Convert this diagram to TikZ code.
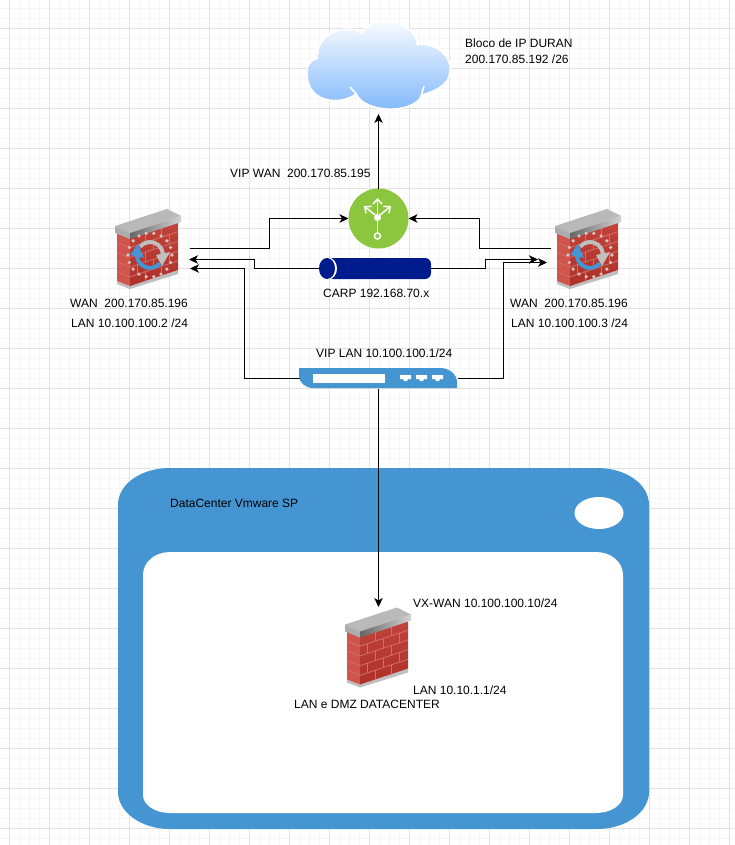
\documentclass[tikz,border=0pt]{standalone}
\usepackage{fontspec}
\setmainfont{Liberation Sans}
\usetikzlibrary{arrows.meta}
\definecolor{winblue}{HTML}{4495D2}
\definecolor{vipgreen}{HTML}{8CC63F}
\definecolor{pipeblue}{HTML}{001B8C}
\definecolor{brick}{HTML}{BC342C}
\definecolor{brickl}{HTML}{CF544C}
\definecolor{mortar}{HTML}{D0706A}
\definecolor{gridmaj}{HTML}{E2E2E2}
\definecolor{gridmin}{HTML}{F6F6F6}
\definecolor{ringdot}{HTML}{D9C2BC}
\definecolor{cloudblue}{HTML}{7DB6FC}
\tikzset{
  conn/.style={draw=black,line width=1pt,-{Stealth[length=9pt,width=8.5pt,inset=2.5pt]}},
  lbl/.style={inner sep=0pt,anchor=west,font=\fontsize{12}{14}\selectfont,text=black},
  port/.style={fill=white},
  box/.style={inner sep=0pt,outer sep=0pt,minimum width=#1},
  iconline/.style={draw=white,line width=1.5pt},
  iconhead/.style={draw=white,line width=1.5pt,-{Straight Barb[length=5pt,width=9pt]}},
}
% name, x, y of the top left corner
\newcommand{\brickwall}[3]{%
  \node[box=66pt,minimum height=80pt] (#1) at (#2+33,#3+40) {};
  \begin{scope}[shift={(#2,#3)}]
    \fill[gray!50] (2,72) -- (15,77) -- (63,61) -- (63,65) -- (15,80) -- (2,75) -- cycle;
    \fill[brickl] (2,22) -- (15,27) -- (15,77) -- (2,72) -- cycle;
    \shade[top color=brick!92!white,bottom color=brick!92!black] (15,27) -- (63,11) -- (63,61) -- (15,77) -- cycle;
    \foreach \i in {1,...,4}{
      \draw[mortar,line width=.8pt] (2,24+\i*9.7) -- (15,29+\i*9.7) -- (63,13+\i*9.7);
    }
    \foreach \i in {0,2,4}{
      \foreach \xx in {30,46}{
        \draw[mortar,line width=.8pt] (\xx,29+\i*9.7-\xx/3+5) -- (\xx,29+\i*9.7-\xx/3+5+9.7);
      }
    }
    \foreach \i in {1,3}{
      \foreach \xx in {22,38,54}{
        \draw[mortar,line width=.8pt] (\xx,29+\i*9.7-\xx/3+5) -- (\xx,29+\i*9.7-\xx/3+5+9.7);
      }
    }
    \shade[left color=gray!55,right color=gray!55] (0,17) -- (52,0) -- (66,7) -- (15,24) -- cycle;
    \fill[gray!65] (0,17) -- (15,24) -- (15,30) -- (0,24) -- cycle;
    \shade[left color=gray!120,right color=gray!35] (15,24) -- (66,7) -- (66,13) -- (15,30) -- cycle;
  \end{scope}
}
% refresh ring around centre x, y
\newcommand{\refreshring}[2]{%
  \begin{scope}[shift={(#1,#2)}]
    \foreach \a in {0,20,...,340}{
      \fill[ringdot] (\a:22pt) circle[radius=1.8pt];
    }
    \draw[gray!50,line width=4pt] (140:13pt) arc[start angle=140,end angle=5,radius=13pt];
    \fill[gray!50] (6,0) -- (20,-3) -- (12,11) -- cycle;
    \draw[winblue,line width=4pt] (-40:13pt) arc[start angle=-40,end angle=-178,radius=13pt];
    \fill[winblue] (-20,0) -- (-6,3) -- (-12,-11) -- cycle;
  \end{scope}
}
\begin{document}
\begin{tikzpicture}[x=1pt,y=-1pt]
\useasboundingbox (0,0) rectangle (734,845);
\fill[white] (0,0) rectangle (734,845);
% grid
\foreach \k in {0,...,73}{
  \draw[gridmin,line width=1pt] (-0.5+\k*10,0) -- (-0.5+\k*10,845);
}
\foreach \k in {0,...,84}{
  \draw[gridmin,line width=1pt] (0,8.5+\k*10) -- (734,8.5+\k*10);
}
\foreach \k in {0,...,18}{
  \draw[gridmaj,line width=1pt] (9.5+\k*40,0) -- (9.5+\k*40,845);
}
\foreach \k in {0,...,20}{
  \draw[gridmaj,line width=1pt] (0,28.5+\k*40) -- (734,28.5+\k*40);
}
% window
\node[box=531pt,minimum height=361pt] (window) at (383.5,648.5) {};
\fill[winblue] (170,468) -- (597,468)
  .. controls (626,468) and (649,484) .. (649,505) -- (649,792)
  .. controls (649,812) and (626,829) .. (597,829) -- (170,829)
  .. controls (141,829) and (118,812) .. (118,792) -- (118,505)
  .. controls (118,484) and (141,468) .. (170,468) -- cycle;
\fill[white] (170,552) -- (596,552)
  .. controls (611,552) and (623,562) .. (623,575) -- (623,795)
  .. controls (623,805) and (611,813) .. (596,813) -- (170,813)
  .. controls (155,813) and (143,805) .. (143,795) -- (143,575)
  .. controls (143,562) and (155,552) .. (170,552) -- cycle;
\fill[white] (599,513) ellipse[x radius=24.5pt,y radius=16pt];
% cloud
\node[box=143pt,minimum height=87pt] (cloud) at (378.5,65.5) {};
\shade[top color=white,bottom color=cloudblue,draw=white,line width=1.5pt]
  (317,58) .. controls (316,36) and (342,22) .. (362,33)
  .. controls (368,16) and (412,16) .. (418,44)
  .. controls (440,44) and (452,58) .. (450,72)
  .. controls (449,86) and (432,92) .. (422,95)
  .. controls (414,114) and (366,114) .. (356,94)
  .. controls (340,106) and (306,103) .. (307,72)
  .. controls (306,66) and (311,60) .. (317,58) -- cycle;
\draw[white,line width=1.6pt] (316,60) -- (318,52) (362,33) -- (357,31) (418,46) -- (416,39) (424,86) -- (421,97) (350,87) -- (357,95);
% vip
\node[circle,fill=vipgreen,minimum size=60pt,inner sep=0pt,outer sep=0pt] (vip) at (378.5,218.5) {};
\draw[iconline] (377.5,233) -- (377.5,217);
\draw[white,line width=1.5pt] (377.5,236) circle[radius=3pt];
\fill[white] (377.5,217.5) circle[radius=3.5pt];
\draw[iconhead] (377.5,217) -- (377.5,198);
\draw[iconhead] (377.5,217) -- (364,206);
\draw[iconhead] (377.5,217) -- (391,206);
% pipe
\node[box=112pt,minimum height=21pt] (pipe) at (375,268.5) {};
\fill[pipeblue,rounded corners=6pt] (327,258) -- (431,258) -- (431,279) -- (327,279) -- cycle;
\fill[white] (328,268.5) ellipse[x radius=9pt,y radius=11pt];
\fill[pipeblue] (327,268.5) ellipse[x radius=8pt,y radius=10.5pt];
% router
\node[box=158pt,minimum height=20pt] (router) at (378.5,378.5) {};
\fill[winblue] (299,368) -- (440,368) .. controls (450,368) and (457,375) .. (457,382)
  -- (457,388) -- (313,388) .. controls (305,388) and (299,382) .. (299,376) -- cycle;
\fill[white] (313,374) rectangle (385,383);
\foreach \xx in {400,416,432}{
  \fill[port] (\xx,375) -- (\xx+11,375) -- (\xx+11,379) -- (\xx+8,379) -- (\xx+7,381) -- (\xx+4,381) -- (\xx+3,379) -- (\xx,379) -- cycle;
}
% walls
\brickwall{fwA}{115}{209}
\refreshring{150}{255}
\brickwall{fwB}{555}{209}
\refreshring{590}{255}
\brickwall{fwC}{345}{607.5}
% connector ends
\coordinate (fwAout) at (189.5,248.5);
\coordinate (fwAcarp) at (189,259.5);
\coordinate (fwAlan) at (190,268.5);
\coordinate (fwBout) at (550.5,248.5);
\coordinate (fwBcarp) at (538,259.5);
\coordinate (fwBlan) at (547,262.5);
\coordinate (fwCin) at (378.5,607);
% connectors
\draw[conn] (vip.north) -- ([yshift=-5pt]vip.north |- cloud.south);
\draw[conn] (fwAout) -- ++(80,0) |- (vip.west);
\draw[conn] (fwBout) -- ++(-71,0) |- (vip.east);
\draw[conn] (pipe.west) -- ++(-64.5,0) |- (fwAcarp);
\draw[conn] (pipe.east) -- ++(54.5,0) |- (fwBcarp);
\draw[conn] (router.west) -- ++(-55,0) |- (fwAlan);
\draw[conn] (router.east) -- ++(46,0) |- (fwBlan);
\draw[conn] (router.south) -- (fwCin);
% labels
\node[lbl] (t1) at (465,43.5) {Bloco de IP DURAN};
\node[lbl] (t2) at (465,59) {200.170.85.192 /26};
\node[lbl] (t3) at (230,173) {VIP WAN\ \ 200.170.85.195};
\node[lbl] (t4) at (70,303) {WAN\ \ 200.170.85.196};
\node[lbl] (t5) at (71,323.5) {LAN 10.100.100.2 /24};
\node[lbl] (t6) at (510,303) {WAN\ \ 200.170.85.196};
\node[lbl] (t7) at (511,323.5) {LAN 10.100.100.3 /24};
\node[lbl] (t8) at (323,293.5) {CARP 192.168.70.x};
\node[lbl] (t9) at (316,353.5) {VIP LAN 10.100.100.1/24};
\node[lbl] (t10) at (170,503) {DataCenter Vmware SP};
\node[lbl] (t11) at (413,603) {VX-WAN 10.100.100.10/24};
\node[lbl] (t12) at (413,690.5) {LAN 10.10.1.1/24};
\node[lbl] (t13) at (294,704) {LAN e DMZ DATACENTER};
\end{tikzpicture}
\end{document}
